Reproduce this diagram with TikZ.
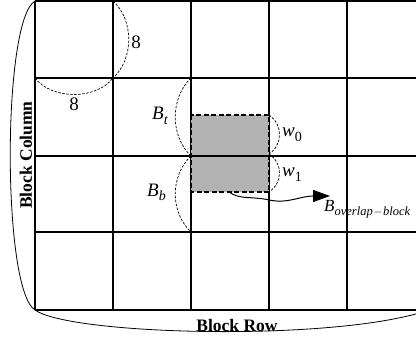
\documentclass[tikz,border=0pt]{standalone}
\usepackage{fontspec}
\setmainfont{Liberation Serif}
\usetikzlibrary{arrows.meta}
\newcommand\lowsub[3]{\raisebox{-#1}{\fontsize{#2}{#2}\selectfont #3}}
\tikzset{
  gridline/.style={line width=1.6pt},
  brace/.style={line width=0.8pt},
  dasharc/.style={line width=0.7pt, dash pattern=on 2.5pt off 1.5pt},
  lbl/.style={inner sep=0pt, font=\fontsize{19}{22}\selectfont},
  lblsmall/.style={inner sep=0pt, font=\fontsize{17}{20}\selectfont},
  bold/.style={inner sep=0pt, font=\fontsize{17.5}{20}\selectfont\bfseries},
  shade/.style={fill=gray!60, line width=1.5pt, dash pattern=on 5pt off 2.5pt},
  flow/.style={line width=1pt, -{Triangle[length=17pt,width=12pt]}}
}
\begin{document}
\begin{tikzpicture}[x=1pt,y=-1pt]
\useasboundingbox (0,0) rectangle (416,340);
\fill[white] (0,0) rectangle (416,340);
\begin{scope}
\clip (0,0) rectangle (416,340);
% grid verticals
\foreach \x in {35,113,191,269,347,425} \draw[gridline] (\x,1) -- (\x,310);
% shaded block
\draw[shade] (191,115) rectangle (269,192);
% grid horizontals
\foreach \y in {1,78,156,232,310} \draw[gridline] (35,\y) -- (430,\y);
% coordinates
\coordinate (g1) at (113,1);
\coordinate (g2) at (113,78);
\coordinate (g3) at (35,78);
\coordinate (bt1) at (191,78);
\coordinate (bt2) at (191,156);
\coordinate (bb2) at (191,232);
\coordinate (w01) at (269,115);
\coordinate (w02) at (269,154);
\coordinate (w12) at (269,192);
\coordinate (tl) at (35,1);
\coordinate (bl) at (35,310);
\coordinate (br) at (426,311);
\coordinate (as) at (229,192);
% dashed arcs
\draw[dasharc] (g1) .. controls (134,20) and (134,59) .. (g2);
\draw[dasharc] (g3) .. controls (52,100) and (96,100) .. (g2);
\draw[dasharc] (bt1) .. controls (170,98) and (170,136) .. (bt2);
\draw[dasharc] (bt2) .. controls (170,176) and (170,212) .. (bb2);
\draw[dasharc] (w01) .. controls (283,124) and (283,145) .. (w02);
\draw[dasharc] (w02) .. controls (283,163) and (283,183) .. (w12);
% outer braces
\draw[brace] (tl) .. controls (2,20) and (2,290) .. (bl);
\draw[brace] (bl) .. controls (70,335) and (330,342) .. (br);
% labels
\node[lbl] (e8a) at (136,42) {8};
\node[lbl] (e8b) at (74,104) {8};
\node[lbl, anchor=base west] (Bt) at (152,119) {\textit{B}\lowsub{5pt}{14}{\textit{t}}};
\node[lbl, anchor=base west] (Bb) at (147,196) {\textit{B}\lowsub{5pt}{14}{\textit{b}}};
\node[lbl, anchor=base west] (w0) at (282,136) {\textit{w}\lowsub{5pt}{14}{0}};
\node[lbl, anchor=base west] (w1) at (282,176) {\textit{w}\lowsub{5pt}{14}{1}};
\node[lblsmall, anchor=base west] (Bo) at (324,211) {\textit{B}\lowsub{4pt}{12.5}{\textit{overlap}\kern0.5pt$-$\kern0.5pt\textit{block}}};
\node[bold, rotate=90] (bc) at (26,155) {Block Column};
\node[bold] (brw) at (237,326) {Block Row};
% arrow
\coordinate (ae) at (330,196);
\draw[flow] (as) .. controls (240,200) and (252,196) .. (269,200) .. controls (288,204) and (300,196) .. (ae);
\end{scope}
\end{tikzpicture}
\end{document}
